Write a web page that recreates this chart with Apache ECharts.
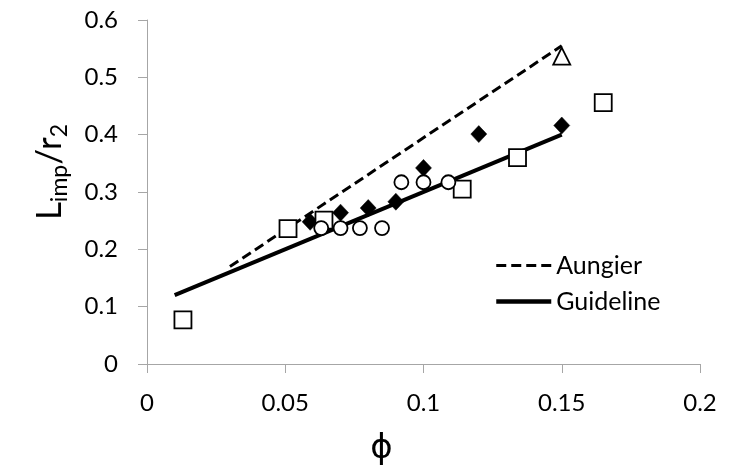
<!DOCTYPE html>
<html>
<head>
<meta charset="utf-8">
<script src="https://cdn.jsdelivr.net/npm/echarts@6/dist/echarts.min.js"></script>
<style>
html,body{margin:0;padding:0;background:#fff;overflow:hidden;}
#chart{width:731px;height:468px;}
</style>
</head>
<body>
<div id="chart"></div>
<script>
// Axis ticks
const xTicks = [0, 0.05, 0.1, 0.15, 0.2];
const yTicks = [0, 0.1, 0.2, 0.3, 0.4, 0.5, 0.6];

// Lines
const aungierPhi = [0.03, 0.15];
const aungierVal = [0.17, 0.555];
const guidelinePhi = [0.01, 0.15];
const guidelineVal = [0.12, 0.40];

// Open squares
const squarePhi = [0.013, 0.051, 0.064, 0.114, 0.134, 0.165];
const squareVal = [0.077, 0.236, 0.251, 0.305, 0.360, 0.456];

// Filled diamonds
const diamondPhi = [0.059, 0.070, 0.080, 0.090, 0.100, 0.120, 0.150];
const diamondVal = [0.248, 0.264, 0.272, 0.283, 0.342, 0.401, 0.416];

// Open circles
const circlePhi = [0.063, 0.070, 0.077, 0.085, 0.092, 0.100, 0.109];
const circleVal = [0.237, 0.237, 0.237, 0.237, 0.317, 0.317, 0.317];

// Open triangle
const trianglePhi = [0.150];
const triangleVal = [0.537];

const zip = (a, b) => a.map((v, i) => [v, b[i]]);
const FONT = 'Lato';
const AXIS_COLOR = '#a6a6a6';
const DASH = [10, 5];

const chart = echarts.init(document.getElementById('chart'), null, {renderer: 'canvas'});
chart.setOption({
  animation: false,
  backgroundColor: '#fff',
  grid: {left: 147, right: 31, top: 20, bottom: 104, containLabel: false, outerBoundsMode: 'none'},
  legend: {
    data: [
      {name: 'Aungier', lineStyle: {width: 3, type: DASH, color: '#000'}},
      {name: 'Guideline', lineStyle: {width: 4.5, type: 'solid', color: '#000'}}
    ],
    orient: 'vertical',
    left: 489,
    top: 246,
    itemWidth: 55,
    itemHeight: 14,
    itemGap: 7,
    itemStyle: {color: 'rgba(0,0,0,0)', borderWidth: 0, opacity: 0},
    textStyle: {fontFamily: FONT, fontSize: 25, color: '#000', lineHeight: 29}
  },
  xAxis: {
    type: 'value',
    min: xTicks[0], max: xTicks[xTicks.length - 1],
    interval: xTicks[1] - xTicks[0],
    splitLine: {show: false},
    axisLine: {show: true, onZero: false, lineStyle: {color: AXIS_COLOR, width: 1}},
    axisTick: {show: true, length: 9, lineStyle: {color: AXIS_COLOR}},
    axisLabel: {fontFamily: FONT, fontSize: 24, color: '#000', margin: 27},
    name: 'ϕ',
    nameLocation: 'middle',
    nameGap: 68,
    nameTextStyle: {fontFamily: 'DejaVu Sans', fontSize: 34, color: '#000', padding: [0, 84, 0, 0]}
  },
  yAxis: {
    type: 'value',
    min: yTicks[0], max: yTicks[yTicks.length - 1],
    interval: yTicks[1] - yTicks[0],
    splitLine: {show: false},
    axisLine: {show: true, onZero: false, lineStyle: {color: AXIS_COLOR, width: 1}},
    axisTick: {show: true, length: 9, lineStyle: {color: AXIS_COLOR}},
    axisLabel: {fontFamily: FONT, fontSize: 24, color: '#000', margin: 29},
    name: '{m|L}{s|imp}{m|/r}{s|2}',
    nameLocation: 'middle',
    nameRotate: 90,
    nameGap: 80,
    nameTextStyle: {
      padding: [0, 0, 0, 40],
      rich: {
        m: {fontFamily: FONT, fontSize: 35, color: '#000', lineHeight: 35, verticalAlign: 'top'},
        s: {fontFamily: FONT, fontSize: 23, color: '#000', lineHeight: 23, padding: [20, 0, 0, 0]}
      }
    }
  },
  series: [
    {
      name: 'Aungier', type: 'line', data: zip(aungierPhi, aungierVal),
      symbol: 'none', z: 2,
      lineStyle: {color: '#000', width: 3, type: DASH},
      itemStyle: {color: '#000'}
    },
    {
      name: 'Guideline', type: 'line', data: zip(guidelinePhi, guidelineVal),
      symbol: 'none', z: 2,
      lineStyle: {color: '#000', width: 4, type: 'solid'},
      itemStyle: {color: '#000'}
    },
    {
      name: 'diamonds', type: 'scatter', data: zip(diamondPhi, diamondVal),
      symbol: 'diamond', symbolSize: [16, 17], z: 3,
      itemStyle: {color: '#000', borderColor: '#000', borderWidth: 0.5, opacity: 1}
    },
    {
      name: 'squares', type: 'scatter', data: zip(squarePhi, squareVal),
      symbol: 'rect', symbolSize: 17, z: 4,
      itemStyle: {color: '#fff', borderColor: '#000', borderWidth: 1.8, opacity: 1}
    },
    {
      name: 'circles', type: 'scatter', data: zip(circlePhi, circleVal),
      symbol: 'circle', symbolSize: 14, z: 5,
      itemStyle: {color: '#fff', borderColor: '#000', borderWidth: 1.8, opacity: 1}
    },
    {
      name: 'triangle', type: 'scatter', data: zip(trianglePhi, triangleVal),
      symbol: 'triangle', symbolSize: [17, 17], z: 5,
      itemStyle: {color: '#fff', borderColor: '#000', borderWidth: 1.8, opacity: 1}
    }
  ]
});
</script>
</body>
</html>
